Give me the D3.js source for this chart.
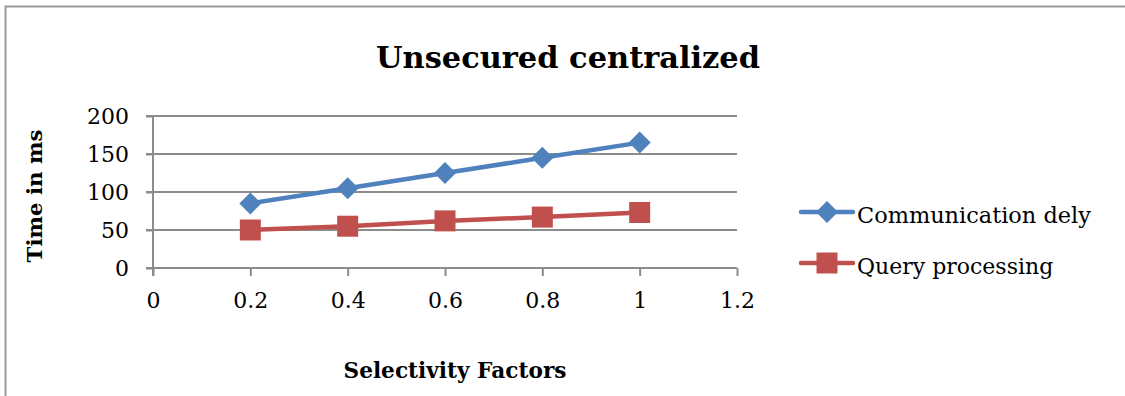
<!DOCTYPE html>
<html>
<head>
<meta charset="utf-8">
<script src="https://cdn.jsdelivr.net/npm/d3@7"></script>
<style>
  html, body { margin: 0; padding: 0; background: #fff; }
  svg { display: block; }
  text { font-family: "DejaVu Serif", "Liberation Serif", serif; fill: #000; }
</style>
</head>
<body>
<svg id="chart" width="1125" height="396"></svg>
<script>
// Selectivity factor on x, time (ms) on y
const selectivity = [0.2, 0.4, 0.6, 0.8, 1.0];
const communicationDelay = [85, 105, 125, 145, 165];
const queryProcessing = [50, 55, 62, 67, 73];
const xTicks = [0, 0.2, 0.4, 0.6, 0.8, 1, 1.2];
const yTicks = [0, 50, 100, 150, 200];
const seriesNames = ["Communication dely", "Query processing"];

const svg = d3.select("#chart");
const FONT = "DejaVu Serif";

// scale a text element's font size so it spans the given width
function fitWidth(sel, width) {
  const node = sel.node();
  const fs = parseFloat(sel.attr("font-size"));
  const w = node.getComputedTextLength();
  if (w > 0) sel.attr("font-size", (fs * width / w).toFixed(2));
  return sel;
}

// chart frame (top and left edges visible)
svg.append("path")
  .attr("d", "M5.5,396 V6.5 H1125")
  .attr("fill", "none").attr("stroke", "#999").attr("stroke-width", 2);

const plot = { left: 153, right: 737, top: 116, bottom: 268 };

const x = d3.scaleLinear().domain([0, 1.2]).range([plot.left, plot.right]);
const y = d3.scaleLinear().domain([0, 200]).range([plot.bottom, plot.top]);

// horizontal gridlines
svg.append("g").selectAll("line").data(yTicks).join("line")
  .attr("x1", plot.left - 7).attr("x2", plot.right)
  .attr("y1", d => y(d)).attr("y2", d => y(d))
  .attr("stroke", "#8c8c8c").attr("stroke-width", 2);

// y axis
const yAxis = d3.axisLeft(y).tickValues(yTicks).tickSize(7).tickPadding(17)
  .tickFormat(d3.format("d"));
const gy = svg.append("g").attr("transform", `translate(${plot.left},0)`).call(yAxis);
gy.select(".domain").attr("stroke", "#8c8c8c").attr("stroke-width", 2)
  .attr("d", `M0,${plot.top} V${plot.bottom + 8}`);
gy.selectAll(".tick line").attr("stroke", "#8c8c8c").attr("stroke-width", 2);
gy.selectAll(".tick text").attr("font-size", 22).attr("font-family", FONT).attr("fill", "#000");

// x axis
const xAxis = d3.axisBottom(x).tickValues(xTicks).tickSize(8).tickPadding(16)
  .tickFormat(d => String(+d.toFixed(1)));
const gx = svg.append("g").attr("transform", `translate(0,${plot.bottom})`).call(xAxis);
gx.select(".domain").remove();
gx.selectAll(".tick line").attr("stroke", "#8c8c8c").attr("stroke-width", 2);
gx.selectAll(".tick text").attr("font-size", 22).attr("font-family", FONT).attr("fill", "#000");

// title and axis titles
fitWidth(svg.append("text").attr("x", 568).attr("y", 68).attr("text-anchor", "middle")
  .attr("font-size", 32).attr("font-weight", "bold").text("Unsecured centralized"), 384);
fitWidth(svg.append("text").attr("transform", "translate(42,196) rotate(-90)")
  .attr("text-anchor", "middle").attr("font-size", 20).attr("font-weight", "bold").text("Time in ms"), 133);
fitWidth(svg.append("text").attr("x", 455).attr("y", 378).attr("text-anchor", "middle")
  .attr("font-size", 20).attr("font-weight", "bold").text("Selectivity Factors"), 223);

const colors = ["#4f81bd", "#c0504d"];
const series = [communicationDelay, queryProcessing];
const line = d3.line().x((d, i) => x(selectivity[i])).y(d => y(d));

const diamond = s => `M0,${-s} L${s},0 L0,${s} L${-s},0 Z`;
const square = s => `M${-s},${-s} H${s} V${s} H${-s} Z`;
const markers = [diamond(11), square(10.5)];

series.forEach((vals, k) => {
  svg.append("path").datum(vals).attr("d", line)
    .attr("fill", "none").attr("stroke", colors[k]).attr("stroke-width", 4.5)
    .attr("stroke-linejoin", "round");
  svg.append("g").selectAll("path").data(vals).join("path")
    .attr("transform", (d, i) => `translate(${x(selectivity[i])},${y(d)})`)
    .attr("d", markers[k]).attr("fill", colors[k]);
});

// legend
const legendY = [212, 263];
seriesNames.forEach((name, k) => {
  const g = svg.append("g").attr("transform", `translate(0,${legendY[k]})`);
  g.append("line").attr("x1", 801).attr("x2", 853).attr("y1", 0).attr("y2", 0)
    .attr("stroke", colors[k]).attr("stroke-width", 4.5).attr("stroke-linecap", "round");
  g.append("path").attr("transform", "translate(827,0)").attr("d", markers[k]).attr("fill", colors[k]);
  const t = g.append("text").attr("x", 857).attr("y", 11).attr("font-size", 22).text(name);
  if (k === 0) fitWidth(t, 234);
});
</script>
</body>
</html>
